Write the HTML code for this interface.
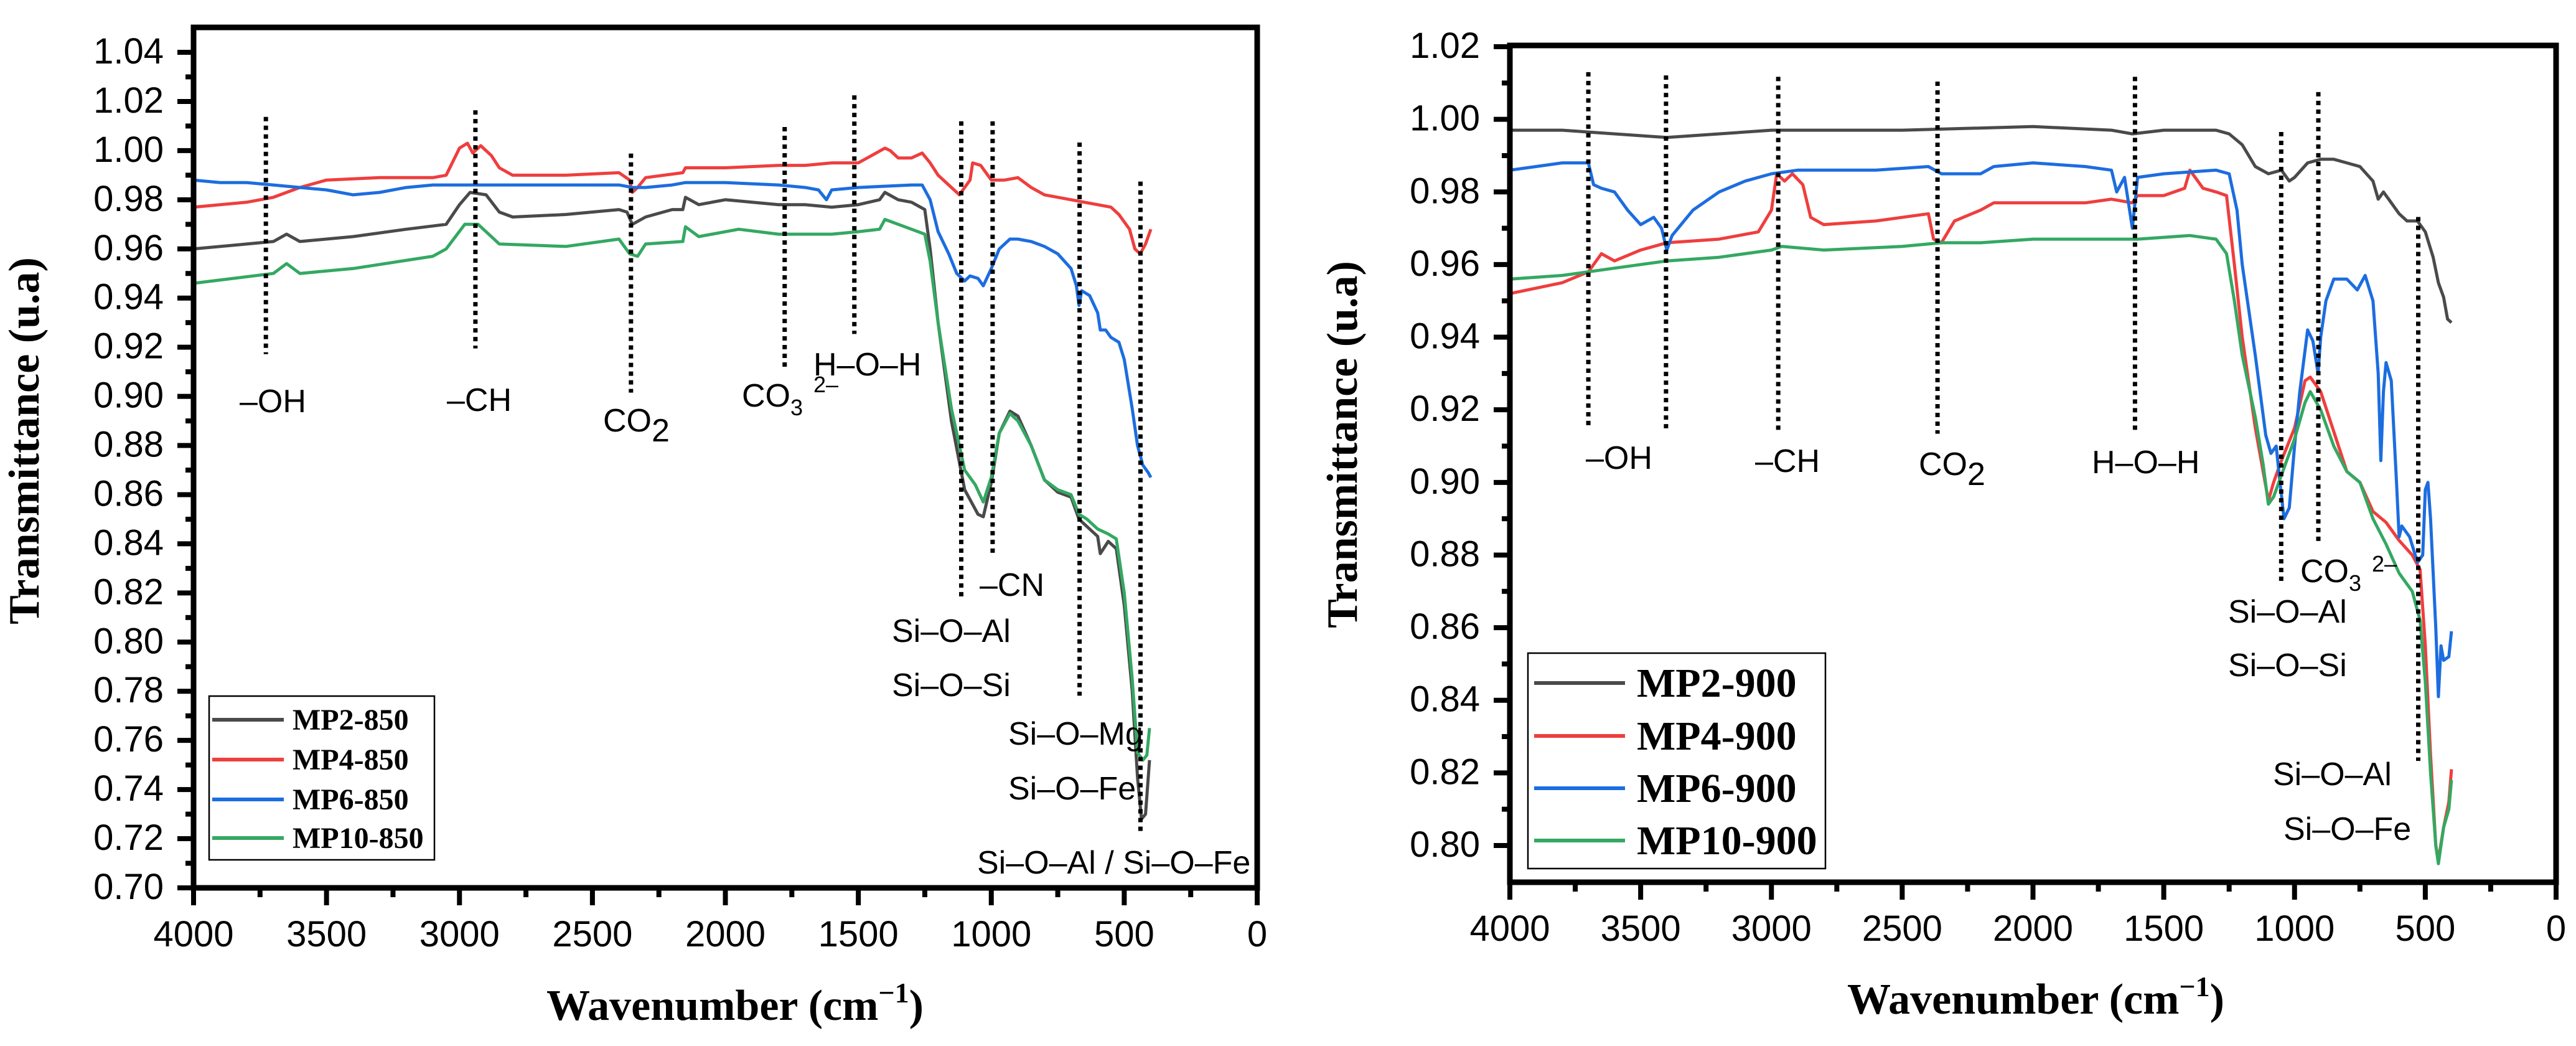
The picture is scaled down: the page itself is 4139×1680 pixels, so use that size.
<!DOCTYPE html>
<html><head><meta charset="utf-8">
<style>
html,body{margin:0;padding:0;background:#fff;}
svg{display:block;}
.tick{font-family:"Liberation Sans",sans-serif;font-size:58px;fill:#000;}
.ann{font-family:"Liberation Sans",sans-serif;font-size:52px;fill:#000;}
.title{font-family:"Liberation Serif",serif;font-weight:bold;font-size:70px;fill:#000;}
.leg{font-family:"Liberation Serif",serif;font-weight:bold;fill:#000;}
</style></head>
<body>
<svg id="chart" xmlns="http://www.w3.org/2000/svg" width="4139" height="1680" viewBox="0 0 4139 1680"></svg>
<script>
// ---- data: left panel (850 °C) ----
const mp2_850 = [[4000,.960],[3800,.962],[3700,.963],[3650,.966],[3600,.963],[3400,.965],[3200,.968],[3050,.970],[3000,.978],[2960,.983],[2900,.982],[2850,.975],[2800,.973],[2600,.974],[2400,.976],[2370,.975],[2350,.970],[2300,.973],[2200,.976],[2160,.976],[2150,.981],[2100,.978],[2000,.980],[1900,.979],[1800,.978],[1700,.978],[1600,.977],[1500,.978],[1420,.980],[1400,.983],[1350,.980],[1300,.979],[1250,.976],[1230,.960],[1200,.930],[1150,.890],[1100,.862],[1050,.852],[1030,.851],[1000,.865],[970,.885],[930,.894],[900,.892],[850,.880],[800,.866],[750,.861],[700,.859],[670,.850],[640,.847],[600,.843],[590,.836],[560,.841],[530,.838],[500,.815],[470,.780],[450,.745],[435,.728],[420,.730],[405,.752]];
const mp4_850 = [[4000,.977],[3800,.979],[3700,.981],[3600,.985],[3500,.988],[3300,.989],[3100,.989],[3050,.990],[3000,1.001],[2970,1.003],[2950,.999],[2920,1.002],[2880,.998],[2850,.993],[2800,.990],[2600,.990],[2400,.991],[2360,.988],[2350,.983],[2330,.985],[2300,.989],[2160,.991],[2150,.993],[2000,.993],[1800,.994],[1700,.994],[1600,.995],[1500,.995],[1450,.998],[1400,1.001],[1380,1.000],[1350,.997],[1300,.997],[1260,.999],[1230,.995],[1200,.990],[1150,.985],[1120,.982],[1080,.988],[1070,.995],[1040,.994],[1000,.988],[950,.988],[900,.989],[850,.985],[800,.982],[700,.980],[650,.979],[550,.977],[520,.974],[480,.968],[460,.960],[440,.958],[420,.962],[400,.968]];
const mp6_850 = [[4000,.988],[3900,.987],[3800,.987],[3700,.986],[3600,.985],[3500,.984],[3400,.982],[3300,.983],[3200,.985],[3100,.986],[3000,.986],[2800,.986],[2500,.986],[2400,.986],[2350,.985],[2300,.985],[2200,.986],[2150,.987],[2000,.987],[1800,.986],[1700,.985],[1650,.984],[1620,.980],[1600,.984],[1500,.985],[1300,.986],[1260,.986],[1230,.980],[1200,.967],[1160,.958],[1130,.950],[1100,.947],[1080,.949],[1050,.948],[1030,.945],[1000,.952],[970,.960],[930,.964],[900,.964],[850,.963],[800,.961],[750,.958],[700,.952],[680,.945],[670,.937],[660,.943],[630,.941],[600,.934],[590,.927],[570,.927],[550,.924],[520,.922],[500,.915],[470,.895],[450,.880],[430,.872],[410,.869],[400,.867]];
const mp10_850 = [[4000,.946],[3700,.950],[3650,.954],[3600,.950],[3400,.952],[3100,.957],[3050,.960],[2980,.970],[2930,.970],[2850,.962],[2600,.961],[2400,.964],[2360,.958],[2330,.957],[2300,.962],[2160,.963],[2150,.969],[2100,.965],[1950,.968],[1800,.966],[1600,.966],[1500,.967],[1420,.968],[1400,.972],[1300,.968],[1250,.966],[1230,.955],[1200,.930],[1150,.895],[1100,.870],[1060,.864],[1030,.857],[1000,.867],[970,.885],[930,.893],[900,.890],[850,.880],[800,.866],[750,.862],[700,.860],[670,.852],[640,.850],[600,.846],[560,.844],[530,.842],[500,.820],[470,.785],[450,.755],[430,.752],[415,.754],[405,.765]];
// ---- data: right panel (900 °C) ----
const mp2_900 = [[4000,.997],[3800,.997],[3600,.996],[3400,.995],[3200,.996],[3000,.997],[2500,.997],[2000,.998],[1700,.997],[1620,.996],[1500,.997],[1300,.997],[1250,.996],[1200,.993],[1150,.987],[1100,.985],[1050,.986],[1020,.983],[1000,.984],[950,.988],[900,.989],[850,.989],[800,.988],[750,.987],[700,.983],[680,.978],[660,.980],[640,.978],[600,.974],[570,.972],[530,.972],[500,.969],[470,.962],[450,.955],[430,.951],[415,.945],[400,.944]];
const mp4_900 = [[4000,.952],[3800,.955],[3700,.958],[3650,.963],[3600,.961],[3500,.964],[3400,.966],[3200,.967],[3050,.969],[3000,.975],[2980,.985],[2950,.983],[2920,.985],[2880,.982],[2850,.973],[2800,.971],[2600,.972],[2400,.974],[2380,.967],[2350,.966],[2300,.972],[2200,.975],[2150,.977],[2000,.977],[1800,.977],[1700,.978],[1620,.977],[1600,.979],[1500,.979],[1420,.981],[1400,.986],[1350,.981],[1300,.980],[1260,.979],[1230,.960],[1200,.940],[1150,.915],[1100,.895],[1080,.900],[1050,.906],[1000,.915],[960,.928],[940,.929],[900,.925],[850,.914],[800,.903],[750,.900],[700,.892],[650,.889],[600,.884],[550,.880],[520,.876],[500,.855],[480,.825],[460,.800],[450,.796],[430,.805],[410,.812],[400,.821]];
const mp6_900 = [[4000,.986],[3900,.987],[3800,.988],[3700,.988],[3680,.982],[3650,.981],[3600,.980],[3550,.975],[3500,.971],[3450,.973],[3420,.970],[3400,.964],[3380,.968],[3300,.975],[3200,.980],[3100,.983],[3000,.985],[2900,.986],[2600,.986],[2400,.987],[2350,.985],[2200,.985],[2150,.987],[2000,.988],[1800,.987],[1700,.986],[1680,.980],[1650,.984],[1620,.970],[1600,.984],[1500,.985],[1300,.986],[1250,.985],[1220,.975],[1200,.960],[1150,.935],[1110,.913],[1090,.908],[1070,.910],[1060,.903],[1040,.890],[1020,.893],[1000,.910],[980,.925],[950,.942],[930,.939],[910,.930],[900,.940],[880,.950],[850,.956],[800,.956],[760,.953],[730,.957],[700,.950],[680,.930],[670,.906],[660,.925],[650,.933],[630,.928],[610,.900],[600,.885],[590,.888],[560,.885],[530,.878],[510,.880],[500,.898],[490,.900],[480,.890],[460,.860],[450,.841],[440,.855],[430,.851],[410,.852],[400,.859]];
const mp10_900 = [[4000,.956],[3800,.957],[3600,.959],[3400,.961],[3200,.962],[3000,.964],[2960,.965],[2800,.964],[2500,.965],[2350,.966],[2200,.966],[2000,.967],[1800,.967],[1600,.967],[1400,.968],[1300,.967],[1260,.963],[1230,.950],[1200,.935],[1150,.918],[1120,.905],[1100,.894],[1080,.896],[1050,.902],[1000,.912],[960,.922],[940,.925],[900,.920],[850,.910],[800,.903],[750,.900],[700,.890],[650,.883],[600,.875],[550,.870],[520,.862],[500,.845],[480,.820],[460,.800],[450,.795],[430,.805],[410,.810],[400,.818]];
// dotted marker lines: [wavenumber, top value, bottom value]
const marks850 = [[3728,1.0137,0.9172],[2940,1.0164,0.9195],[2355,0.9988,0.9015],[1777,1.0096,0.9119],[1515,1.0225,0.9254],[1113,1.0119,0.8177],[995,1.0119,0.8357],[668,1.0033,0.7782],[439,0.9874,0.7230]];
const marks900 = [[3700,1.013,0.9152],[3403,1.0121,0.9149],[2974,1.0117,0.9143],[2365,1.0104,0.9134],[1610,1.0117,0.9143],[1051,0.9965,0.872],[909,1.0075,0.883],[527,0.9731,0.8233]];
const xTicks = [4000,3500,3000,2500,2000,1500,1000,500,0];
const yTicks850 = [1.04,1.02,1.00,0.98,0.96,0.94,0.92,0.90,0.88,0.86,0.84,0.82,0.80,0.78,0.76,0.74,0.72,0.70];
const yTicks900 = [1.02,1.00,0.98,0.96,0.94,0.92,0.90,0.88,0.86,0.84,0.82,0.80];
const names850 = ["MP2-850","MP4-850","MP6-850","MP10-850"];
const names900 = ["MP2-900","MP4-900","MP6-900","MP10-900"];
const colors = ["#4a4a4a","#ef3e3e","#1c6ddf","#34a862"];

const NS="http://www.w3.org/2000/svg";
const svg=document.getElementById('chart');
function el(tag,attrs,parent){const e=document.createElementNS(NS,tag);for(const k in attrs)e.setAttribute(k,attrs[k]);(parent||svg).appendChild(e);return e;}

function panel(cfg){
  const g=el('g',{});
  
  
  const X=w=>cfg.x0+(cfg.x1-cfg.x0)*(4000-w)/4000;
  const Y=v=>cfg.yb+(cfg.yt-cfg.yb)*(v-cfg.vmin)/(cfg.vmax-cfg.vmin);
  // series
  cfg.series.forEach((s,i)=>{
    const p=el('polyline',{points:s.map(d=>X(d[0]).toFixed(1)+','+Y(d[1]).toFixed(1)).join(' '),fill:'none',stroke:colors[i],'stroke-width':5,'stroke-linejoin':'round'},g);
    
    
  });
  // dotted markers
  cfg.marks.forEach(m=>{
    const l=el('line',{x1:X(m[0]),x2:X(m[0]),y1:Y(m[1]),y2:Y(m[2]),stroke:'#000','stroke-width':7,'stroke-dasharray':'7 7'},g);
    
    
  });
  // frame
  const fr=el('rect',{x:cfg.x0,y:cfg.fTop,width:cfg.x1-cfg.x0,height:cfg.fBot-cfg.fTop,fill:'none',stroke:'#000','stroke-width':9},g);
  
  
  // x ticks
  xTicks.forEach(t=>{
    el('line',{x1:X(t),x2:X(t),y1:cfg.fBot,y2:cfg.fBot+28,stroke:'#000','stroke-width':8},g);
    if(t>0) el('line',{x1:X(t-250),x2:X(t-250),y1:cfg.fBot,y2:cfg.fBot+15,stroke:'#000','stroke-width':8},g);
    const tx=el('text',{x:X(t),y:cfg.fBot+94,'text-anchor':'middle',class:'tick'},g);
    tx.textContent=String(t);
    
    
  });
  // y ticks
  cfg.yTicks.forEach(t=>{
    el('line',{x1:cfg.x0-26,x2:cfg.x0,y1:Y(t),y2:Y(t),stroke:'#000','stroke-width':8},g);
    const mv=t-0.01; if(mv>cfg.vmin-0.001) el('line',{x1:cfg.x0-13,x2:cfg.x0,y1:Y(mv),y2:Y(mv),stroke:'#000','stroke-width':8},g);
    const ty=el('text',{x:cfg.x0-48,y:Y(t)+18,'text-anchor':'end',class:'tick'},g);
    ty.textContent=t.toFixed(2);
    
    
  });
  if(cfg.yTicks[0]+0.01<cfg.vmax) el('line',{x1:cfg.x0-13,x2:cfg.x0,y1:Y(cfg.yTicks[0]+0.01),y2:Y(cfg.yTicks[0]+0.01),stroke:'#000','stroke-width':8},g);
  // titles
  const yt=el('text',{x:cfg.ytx,y:cfg.yty,'text-anchor':'middle',class:'title',transform:`rotate(-90 ${cfg.ytx} ${cfg.yty})`},g);
  yt.textContent='Transmittance (u.a)';
  
  
  const xt=el('text',{x:cfg.xtx,y:cfg.xty,'text-anchor':'middle',class:'title'},g);
  xt.innerHTML='Wavenumber (cm<tspan dy="-28" font-size="46">−1</tspan><tspan dy="28">)</tspan>';
  
  
  // annotations
  cfg.anns.forEach(a=>{
    const t=el('text',{x:a[1],y:a[2]+18,class:'ann'},g);
    t.innerHTML=a[0];
    
    
  });
  // legend
  const L=cfg.leg;
  const lg=el('g',{},g);
  
  
  el('rect',{x:L.x,y:L.y,width:L.w,height:L.h,fill:'#fff',stroke:'#000','stroke-width':2.5},lg);
  cfg.names.forEach((n,i)=>{
    const yy=L.rows[i];
    const ln=el('line',{x1:L.lx1,x2:L.lx2,y1:yy,y2:yy,stroke:colors[i],'stroke-width':6},lg);
    
    
    const t=el('text',{x:L.tx,y:yy+L.fs*0.33,class:'leg','font-size':L.fs},lg);
    t.textContent=n;
    
    
  });
}

panel({id:'left-850',x0:311,x1:2020,fTop:44,fBot:1426,yb:1426,yt:84,vmin:0.70,vmax:1.04,
  series:[mp2_850,mp4_850,mp6_850,mp10_850],names:names850,marks:marks850,yTicks:yTicks850,
  ytx:62,yty:708,xtx:1181,xty:1638,
  anns:[['–OH',385,644],['–CH',718,642],['CO<tspan dy="16">2</tspan>',969,675],['CO<tspan dy="14" font-size="36">3</tspan>',1192,635],['<tspan font-size="36">2–</tspan>',1307,612],['H–O–H',1307,585],['–CN',1574,939],['Si–O–Al',1433,1013],['Si–O–Si',1433,1100],['Si–O–Mg',1620,1178],['Si–O–Fe',1620,1266],['Si–O–Al / Si–O–Fe',1570,1385]],
  leg:{x:336,y:1118,w:362,h:263,rows:[1156,1220,1284,1346],lx1:341,lx2:456,tx:470,fs:48}
});
panel({id:'right-900',x0:2426,x1:4107,fTop:73,fBot:1417,yb:1358,yt:75,vmin:0.80,vmax:1.02,
  series:[mp2_900,mp4_900,mp6_900,mp10_900],names:names900,marks:marks900,yTicks:yTicks900,
  ytx:2180,yty:714,xtx:3271,xty:1628,
  anns:[['–OH',2548,735],['–CH',2820,740],['CO<tspan dy="16">2</tspan>',3083,745],['H–O–H',3361,742],['CO<tspan dy="14" font-size="36">3</tspan>',3696,917],['<tspan font-size="36">2–</tspan>',3811,900],['Si–O–Al',3580,982],['Si–O–Si',3580,1068],['Si–O–Al',3652,1243],['Si–O–Fe',3669,1331]],
  leg:{x:2455,y:1049,w:478,h:346,rows:[1097,1182,1266,1350],lx1:2465,lx2:2611,tx:2630,fs:66}
});
</script>
</body></html>
